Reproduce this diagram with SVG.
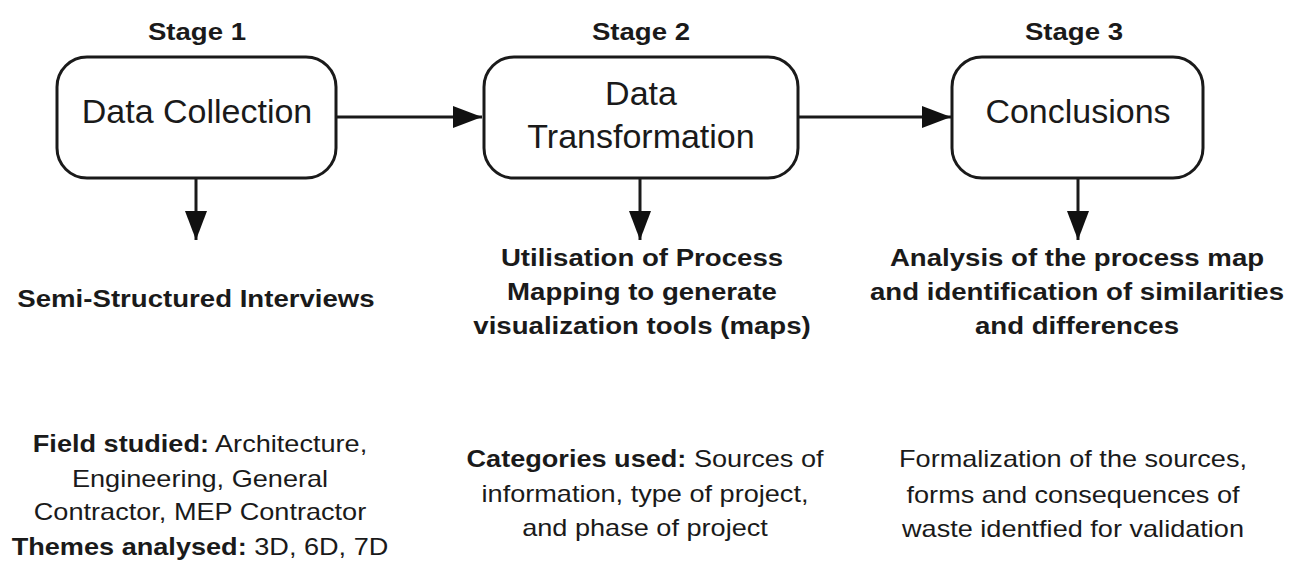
<svg xmlns="http://www.w3.org/2000/svg" width="1300" height="563" viewBox="0 0 1300 563">
<defs>
<marker id="ah" viewBox="0 0 29 22" refX="29" refY="11" markerWidth="29" markerHeight="22" markerUnits="userSpaceOnUse" orient="auto">
<path d="M0,0 L29,11 L0,22 Z" fill="#111"/>
</marker>
<style>
.box{fill:#fff;stroke:#1a1a1a;stroke-width:3}
.conn{stroke:#1a1a1a;stroke-width:3;fill:none;marker-end:url(#ah)}
.title{font-family:"Liberation Sans",Arial,sans-serif;font-size:34px;fill:#1a1a1a;text-anchor:middle}
.bold{font-family:"Liberation Sans",Arial,sans-serif;font-size:24px;font-weight:bold;fill:#1a1a1a;text-anchor:middle}
.reg{font-family:"Liberation Sans",Arial,sans-serif;font-size:24px;fill:#1a1a1a;text-anchor:middle}
.b{font-weight:bold}
</style>
</defs>
<rect width="1300" height="563" fill="#fff"/>
<g id="connectors">
<line class="conn" x1="337" y1="117" x2="482" y2="117"/>
<line class="conn" x1="798" y1="117" x2="951" y2="117"/>
<line class="conn" x1="196" y1="179" x2="196" y2="240"/>
<line class="conn" x1="640" y1="179" x2="640" y2="240"/>
<line class="conn" x1="1078" y1="179" x2="1078" y2="240"/>
</g>
<g id="stage1">
<text class="bold" transform="matrix(1.15,0,0,1,197,0)" x="0" y="40">Stage 1</text>
<rect class="box" x="57" y="57" width="279" height="121" rx="30"/>
<text class="title" x="197" y="123">Data Collection</text>
<text class="bold" transform="matrix(1.15,0,0,1,196,0)" x="0" y="307">Semi-Structured Interviews</text>
<text class="reg" transform="matrix(1.13,0,0,1,200,0)" x="0" y="452"><tspan class="b">Field studied:</tspan> Architecture,</text>
<text class="reg" transform="matrix(1.13,0,0,1,200,0)" x="0" y="487">Engineering, General</text>
<text class="reg" transform="matrix(1.13,0,0,1,200,0)" x="0" y="520">Contractor, MEP Contractor</text>
<text class="reg" transform="matrix(1.13,0,0,1,200,0)" x="0" y="555"><tspan class="b">Themes analysed:</tspan> 3D, 6D, 7D</text>
</g>
<g id="stage2">
<text class="bold" transform="matrix(1.15,0,0,1,641,0)" x="0" y="40">Stage 2</text>
<rect class="box" x="484" y="57" width="314" height="121" rx="30"/>
<text class="title" x="641" y="105">Data</text>
<text class="title" x="641" y="148">Transformation</text>
<text class="bold" transform="matrix(1.15,0,0,1,642,0)" x="0" y="266">Utilisation of Process</text>
<text class="bold" transform="matrix(1.15,0,0,1,642,0)" x="0" y="300">Mapping to generate</text>
<text class="bold" transform="matrix(1.15,0,0,1,642,0)" x="0" y="334">visualization tools (maps)</text>
<text class="reg" transform="matrix(1.13,0,0,1,645,0)" x="0" y="467"><tspan class="b">Categories used:</tspan> Sources of</text>
<text class="reg" transform="matrix(1.13,0,0,1,645,0)" x="0" y="502">information, type of project,</text>
<text class="reg" transform="matrix(1.13,0,0,1,645,0)" x="0" y="536">and phase of project</text>
</g>
<g id="stage3">
<text class="bold" transform="matrix(1.15,0,0,1,1074,0)" x="0" y="40">Stage 3</text>
<rect class="box" x="952" y="57" width="251" height="121" rx="30"/>
<text class="title" x="1078" y="123">Conclusions</text>
<text class="bold" transform="matrix(1.15,0,0,1,1077,0)" x="0" y="266">Analysis of the process map</text>
<text class="bold" transform="matrix(1.15,0,0,1,1077,0)" x="0" y="300">and identification of similarities</text>
<text class="bold" transform="matrix(1.15,0,0,1,1077,0)" x="0" y="334">and differences</text>
<text class="reg" transform="matrix(1.13,0,0,1,1073,0)" x="0" y="467">Formalization of the sources,</text>
<text class="reg" transform="matrix(1.13,0,0,1,1073,0)" x="0" y="503">forms and consequences of</text>
<text class="reg" transform="matrix(1.13,0,0,1,1073,0)" x="0" y="537">waste identfied for validation</text>
</g>
</svg>
